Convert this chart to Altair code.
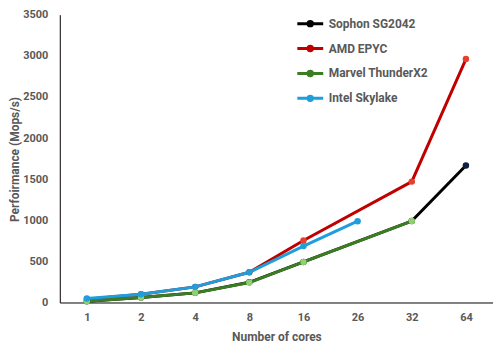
import altair as alt
import pandas as pd

cores = ["1", "2", "4", "8", "16", "26", "32", "64"]
series_names = ["Sophon SG2042", "AMD EPYC", "Marvel ThunderX2", "Intel Skylake"]
sophon = [15, 62, 117, 245, 493, None, 990, 1665]
amd = [40, 100, 190, 367, 754, None, 1470, 2960]
marvel = [15, 62, 117, 242, 493, None, 990, None]
intel = [48, 100, 190, 367, 686, 989, None, None]
y_ticks = [0, 500, 1000, 1500, 2000, 2500, 3000, 3500]

line_colors = ["#000000", "#C00000", "#3A7D22", "#1E9FDB"]
fill_colors = ["#0E1E40", "#E4402A", "#8FD16A", "#1E9FDB"]

rows = []
for name, vals in zip(series_names, [sophon, amd, marvel, intel]):
    for i, (c, v) in enumerate(zip(cores, vals)):
        if v is not None:
            rows.append({"cores": c, "perf": v, "series": name, "order": i})
df = pd.DataFrame(rows)

FONT = "Roboto"
GRAY = "#595959"

x = alt.X("cores:N", sort=cores, scale=alt.Scale(type="point", padding=0.5),
          axis=alt.Axis(title="Number of cores", labelAngle=0, ticks=False,
                        domainColor="#000000", labelPadding=9, titlePadding=9))
y = alt.Y("perf:Q", scale=alt.Scale(domain=[0, 3500]),
          axis=alt.Axis(title="Perfoirmance (Mops/s)", values=y_ticks, format="d",
                        grid=False, ticks=False, domainColor="#000000", labelPadding=12,
                        titleX=-45, titleY=145, titleAngle=-90, titleAlign="center",
                        titleBaseline="middle"))

color = alt.Color("series:N", scale=alt.Scale(domain=series_names, range=line_colors),
                  legend=alt.Legend(title=None, orient="none", legendX=243.5, legendY=1,
                                    symbolType="M-2,0H2M0.34,0A0.34,0.34,0,1,1,-0.34,0A0.34,0.34,0,1,1,0.34,0Z",
                                    symbolSize=169, symbolStrokeWidth=3, labelOffset=10.5,
                                    rowPadding=7, padding=0, labelFontSize=12,
                                    labelFont=FONT, labelFontWeight="bold", labelColor=GRAY))

lines = alt.Chart(df).mark_line(strokeWidth=3).encode(x=x, y=y, color=color, order="order:Q")
points = alt.Chart(df).mark_point(filled=True, size=42, strokeWidth=1, opacity=1).encode(
    x=x, y=y,
    color=alt.Color("series:N", scale=alt.Scale(domain=series_names, range=line_colors)),
    fill=alt.Fill("series:N", scale=alt.Scale(domain=series_names, range=fill_colors), legend=None),
)

chart = alt.layer(lines, points).properties(
    width=435, height=289,
    autosize=alt.AutoSizeParams(type="none"),
    padding={"left": 52, "top": 6, "right": 0, "bottom": 45},
).configure_view(stroke=None).configure_axis(
    labelFont=FONT, titleFont=FONT, labelFontWeight="bold", titleFontWeight="bold",
    labelColor=GRAY, titleColor=GRAY, labelFontSize=11, titleFontSize=12,
)

chart.save("out.html", embed_options={"renderer": "svg", "actions": False})
